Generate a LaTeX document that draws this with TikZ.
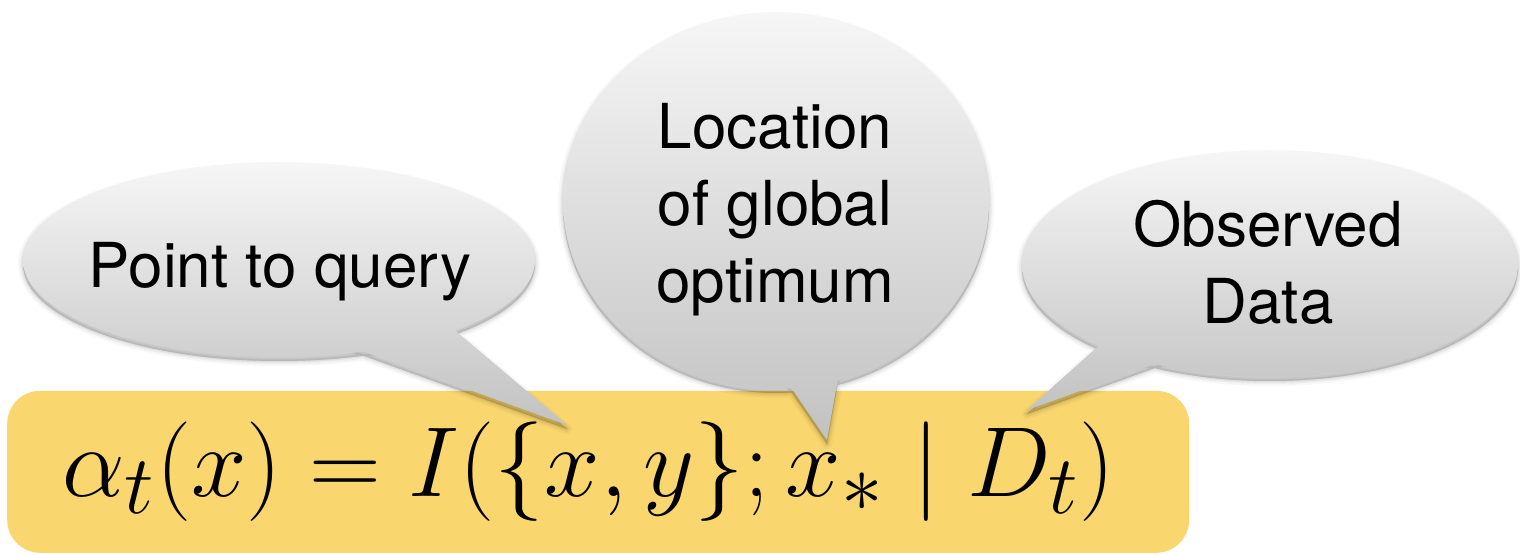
\documentclass[tikz,border=0pt]{standalone}
\usepackage{fontspec}
\setmainfont{TeX Gyre Heros}
\definecolor{boxyellow}{RGB}{249,214,110}
\definecolor{bubtop}{RGB}{246,246,246}
\definecolor{bubbot}{RGB}{194,194,194}
\begin{document}
\begin{tikzpicture}[x=1pt,y=1pt,
  bubble/.style={top color=bubtop, bottom color=bubbot, draw=none},
  softshadow/.style={fill=black, fill opacity=#1, draw=black, draw opacity=#1, line join=round},
  bubtext/.style={font=\fontsize{62}{77}\selectfont, align=center, inner sep=0pt, text=black},
  bubA/.style={insert path={(279,294) ellipse [x radius=256pt, y radius=97pt] (345,209) -- (567,129) -- (438,238) -- cycle}},
  bubB/.style={insert path={(776,353) ellipse [x radius=213pt, y radius=188pt] (786,174) -- (827,114) -- (839,181) -- cycle}},
  bubC/.style={insert path={(1270,290) ellipse [x radius=248pt, y radius=113pt] (1104,213) -- (1027,144) -- (1166,194) -- cycle}},
  formbox/.style={fill=boxyellow, rounded corners=33pt, draw=none, inner sep=0pt}
]
\useasboundingbox (0,0) rectangle (1520,554);
\fill[white] (0,0) rectangle (1520,554);
% formula box
\node[formbox, minimum width=1182pt, minimum height=162pt, anchor=south west] (box) at (7,1) {};
% soft shadows of the bubbles
\foreach \w/\o in {10/0.03, 6/0.04, 3/0.05, 0.5/0.05} {
  \path[softshadow=\o, line width=\w pt, yshift=-4pt, bubA];
  \path[softshadow=\o, line width=\w pt, yshift=-4pt, bubB];
  \path[softshadow=\o, line width=\w pt, yshift=-4pt, bubC];
}
% bubbles
\path[bubble, bubA];
\path[bubble, bubB];
\path[bubble, bubC];
% texts
\node[bubtext, anchor=base] (query) at (280,266) {Point to query};
\node[bubtext] (optimum) at (775,344.5) {Location\\of global\\optimum};
\node[bubtext] (data) at (1268,291.5) {Observed\\Data};
% formula
\node[anchor=base, inner sep=0pt, scale=4.0, font=\Huge] (eq) at (589,57) {$\alpha_t(x) = I(\{x, y\}; x_* \mid D_t)$};
\end{tikzpicture}
\end{document}
